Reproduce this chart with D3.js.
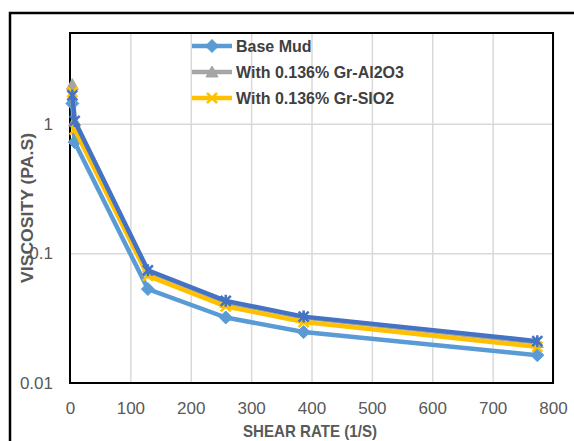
<!DOCTYPE html>
<html>
<head>
<meta charset="utf-8">
<script src="https://cdn.jsdelivr.net/npm/d3@7"></script>
<style>
  body { margin: 0; background: #fff; }
  text { font-family: "Liberation Sans", Arial, sans-serif; }
</style>
</head>
<body>
<svg id="chart" width="574" height="441"></svg>
<script>
// shear rates (1/s)
var shearRate = [3.87, 7.74, 129, 258, 387, 774];
// viscosity (Pa.s)
var baseMud  = [1.43, 0.72, 0.053, 0.032, 0.0247, 0.0164];
var grAl2O3  = [2.0, 1.05, 0.073, 0.042, 0.032, 0.0205];
var grSiO2   = [1.75, 0.9, 0.067, 0.039, 0.0295, 0.019];
var extra    = [1.65, 1.05, 0.074, 0.043, 0.0325, 0.021];

var xTicks = [0, 100, 200, 300, 400, 500, 600, 700, 800];
var yTicks = [0.01, 0.1, 1];

var series = [
    { name: "Base Mud", values: baseMud, color: "#5B9BD5", marker: "diamond", legend: true },
    { name: "With 0.136% Gr-Al2O3", values: grAl2O3, color: "#A5A5A5", marker: "triangle", legend: true },
    { name: "With 0.136% Gr-SIO2", values: grSiO2, color: "#FFC000", marker: "x", legend: true },
    { name: "", values: extra, color: "#4472C4", marker: "star", legend: false }
];

var svg = d3.select("#chart");

var plotLeft = 70, plotRight = 553, plotTop = 33, plotBottom = 383;

// chart area border (runs off the picture on the right and bottom)
svg.append("rect")
    .attr("x", 10).attr("y", 13)
    .attr("width", 600).attr("height", 500)
    .attr("fill", "none").attr("stroke", "#000").attr("stroke-width", 2.5);

var x = d3.scaleLinear().domain([0, 800]).range([plotLeft, plotRight]);
var y = d3.scaleLog().domain([0.01, 5]).range([plotBottom, plotTop]);

// gridlines
svg.append("g")
    .attr("transform", "translate(0," + plotBottom + ")")
    .call(d3.axisBottom(x).tickValues(xTicks.slice(1)).tickSize(-(plotBottom - plotTop)).tickFormat(""))
    .call(function(g) { g.select(".domain").remove(); })
    .selectAll("line").attr("stroke", "#d9d9d9").attr("stroke-width", 1.5);

svg.append("g")
    .attr("transform", "translate(" + plotLeft + ",0)")
    .call(d3.axisLeft(y).tickValues(yTicks.slice(1)).tickSize(-(plotRight - plotLeft)).tickFormat(""))
    .call(function(g) { g.select(".domain").remove(); })
    .selectAll("line").attr("stroke", "#d9d9d9").attr("stroke-width", 1.5);

// tick labels
var xAxis = svg.append("g")
    .attr("transform", "translate(0," + plotBottom + ")")
    .call(d3.axisBottom(x).tickValues(xTicks).tickSize(0).tickPadding(19).tickFormat(d3.format("d")));
xAxis.select(".domain").remove();
xAxis.selectAll("text").attr("font-size", "17px").attr("fill", "#595959")
    .attr("font-family", "'Liberation Sans', sans-serif");

var yAxis = svg.append("g")
    .attr("transform", "translate(" + plotLeft + ",0)")
    .call(d3.axisLeft(y).tickValues(yTicks).tickSize(0).tickPadding(17).tickFormat(function(d) { return String(d); }));
yAxis.select(".domain").remove();
yAxis.selectAll("text").attr("font-size", "17px").attr("fill", "#595959")
    .attr("font-family", "'Liberation Sans', sans-serif");

// plot area border
svg.append("rect")
    .attr("x", plotLeft).attr("y", plotTop)
    .attr("width", plotRight - plotLeft).attr("height", plotBottom - plotTop)
    .attr("fill", "none").attr("stroke", "#000").attr("stroke-width", 2);

// axis titles
svg.append("text")
    .attr("x", 310).attr("y", 437)
    .attr("text-anchor", "middle")
    .attr("font-size", "17px").attr("font-weight", "bold").attr("fill", "#595959")
    .attr("textLength", 134).attr("lengthAdjust", "spacingAndGlyphs")
    .text("SHEAR RATE (1/S)");

svg.append("text")
    .attr("transform", "translate(33,208) rotate(-90)")
    .attr("text-anchor", "middle")
    .attr("font-size", "17px").attr("font-weight", "bold").attr("fill", "#595959")
    .attr("textLength", 150).attr("lengthAdjust", "spacingAndGlyphs")
    .text("VISCOSITY (PA.S)");

// excel style markers
function markerPath(type) {
    if (type === "diamond") return "M0,-6.5L6.5,0L0,6.5L-6.5,0Z";
    if (type === "triangle") return "M0,-6L6,5L-6,5Z";
    if (type === "x") return "M-5,-5L5,5M-5,5L5,-5";
    return "M-5,-5L5,5M-5,5L5,-5M0,-6L0,6";
}

var line = d3.line()
    .x(function(d) { return x(d[0]); })
    .y(function(d) { return y(d[1]); });

series.forEach(function(s) {
    var pts = shearRate.map(function(v, i) { return [v, s.values[i]]; });
    var g = svg.append("g");
    g.append("path")
        .datum(pts)
        .attr("d", line)
        .attr("fill", "none")
        .attr("stroke", s.color)
        .attr("stroke-width", 4.5)
        .attr("stroke-linejoin", "round");
    g.selectAll("path.m").data(pts).enter()
        .append("path")
            .attr("class", "m")
            .attr("transform", function(d) { return "translate(" + x(d[0]) + "," + y(d[1]) + ")"; })
            .attr("d", markerPath(s.marker))
            .attr("fill", s.color)
            .attr("stroke", s.color)
            .attr("stroke-width", (s.marker === "x" || s.marker === "star") ? 2.5 : 1);
});

// legend
var legend = svg.append("g");
series.filter(function(s) { return s.legend; }).forEach(function(s, i) {
    var ly = 46 + i * 26;
    legend.append("line")
        .attr("x1", 192).attr("x2", 232).attr("y1", ly).attr("y2", ly)
        .attr("stroke", s.color).attr("stroke-width", 4.5);
    legend.append("path")
        .attr("transform", "translate(212," + ly + ")")
        .attr("d", markerPath(s.marker))
        .attr("fill", s.color).attr("stroke", s.color)
        .attr("stroke-width", s.marker === "x" ? 2.5 : 1);
    legend.append("text")
        .attr("x", 236).attr("y", ly + 6)
        .attr("font-size", "16px").attr("font-weight", "bold").attr("fill", "#404040")
        .text(s.name);
});
</script>
</body>
</html>
